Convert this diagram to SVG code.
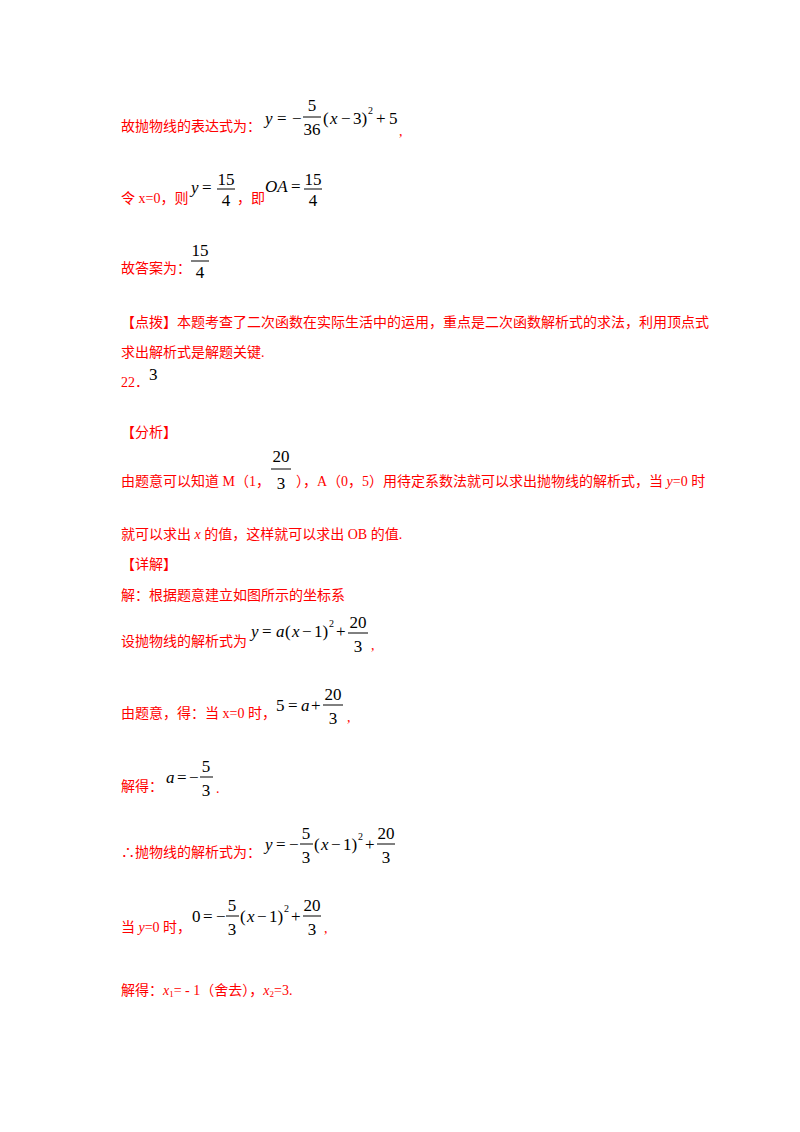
<svg xmlns="http://www.w3.org/2000/svg" width="800" height="1132" viewBox="0 0 800 1132">
<style>
.r{fill:#ff0000;font-family:"Liberation Serif","Times New Roman","Noto Sans CJK SC",serif;font-size:14px}
.m{fill:#000;font-family:"Liberation Serif","Times New Roman",serif;font-size:17px}
.i{font-style:italic}
.s{font-size:10px}
.f{stroke:#000;stroke-width:1}
</style>
<rect width="800" height="1132" fill="#fff"/>
<text class="r" x="121" y="131">故抛物线的表达式为：</text>
<text class="m i" x="265" y="124">y</text>
<text class="m" x="277" y="124">=</text>
<text class="m" x="292" y="124">−</text>
<text class="m" x="312" y="111" text-anchor="middle">5</text>
<line class="f" x1="303" y1="117" x2="321" y2="117"/>
<text class="m" x="312" y="135" text-anchor="middle">36</text>
<text class="m" x="323" y="124">(</text>
<text class="m i" x="330" y="124">x</text>
<text class="m" x="341" y="124">−</text>
<text class="m" x="353" y="124">3)</text>
<text class="m s" x="368" y="114">2</text>
<text class="m" x="376" y="124">+</text>
<text class="m" x="389" y="124">5</text>
<text class="r" x="399" y="136">,</text>

<text class="r" x="121" y="203">令 x=0，则</text>
<text class="m i" x="191" y="193">y</text>
<text class="m" x="202" y="193">=</text>
<text class="m" x="226" y="185" text-anchor="middle">15</text>
<line class="f" x1="217" y1="189" x2="235" y2="189"/>
<text class="m" x="226" y="206" text-anchor="middle">4</text>
<text class="r" x="237" y="203">，即</text>
<text class="m i" x="265" y="192">OA</text>
<text class="m" x="291" y="192">=</text>
<text class="m" x="313" y="185" text-anchor="middle">15</text>
<line class="f" x1="304" y1="189" x2="322" y2="189"/>
<text class="m" x="313" y="206" text-anchor="middle">4</text>

<text class="r" x="121" y="273">故答案为：</text>
<text class="m" x="200" y="256" text-anchor="middle">15</text>
<line class="f" x1="191" y1="261" x2="209" y2="261"/>
<text class="m" x="200" y="278" text-anchor="middle">4</text>

<text class="r" x="121" y="327">【点拨】本题考查了二次函数在实际生活中的运用，重点是二次函数解析式的求法，利用顶点式</text>
<text class="r" x="121" y="357">求出解析式是解题关键.</text>
<text class="r" x="121" y="387">22．</text>
<text class="m" x="149" y="380">3</text>
<text class="r" x="121" y="437">【分析】</text>
<text class="r" x="121" y="486">由题意可以知道 M（1，</text>
<text class="m" x="281" y="462" text-anchor="middle">20</text>
<line class="f" x1="271" y1="469" x2="291" y2="469"/>
<text class="m" x="281" y="489" text-anchor="middle">3</text>
<text class="r" x="296" y="486">），A（0，5）用待定系数法就可以求出抛物线的解析式，当 <tspan font-style="italic">y</tspan>=0 时</text>
<text class="r" x="121" y="539">就可以求出 <tspan font-style="italic">x</tspan> 的值，这样就可以求出 OB 的值.</text>
<text class="r" x="121" y="569">【详解】</text>
<text class="r" x="121" y="600">解：根据题意建立如图所示的坐标系</text>

<text class="r" x="121" y="646">设抛物线的解析式为</text>
<text class="m i" x="251" y="637">y</text>
<text class="m" x="262" y="637">=</text>
<text class="m i" x="276" y="637">a</text>
<text class="m" x="285" y="637">(</text>
<text class="m i" x="292" y="637">x</text>
<text class="m" x="302" y="637">−</text>
<text class="m" x="314" y="637">1)</text>
<text class="m s" x="329" y="627">2</text>
<text class="m" x="336" y="637">+</text>
<text class="m" x="358" y="628" text-anchor="middle">20</text>
<line class="f" x1="348" y1="633" x2="368" y2="633"/>
<text class="m" x="358" y="652" text-anchor="middle">3</text>
<text class="r" x="371" y="650">,</text>

<text class="r" x="121" y="718">由题意，得：当 x=0 时，</text>
<text class="m" x="276" y="711">5</text>
<text class="m" x="288" y="711">=</text>
<text class="m i" x="301" y="711">a</text>
<text class="m" x="311" y="711">+</text>
<text class="m" x="333" y="700" text-anchor="middle">20</text>
<line class="f" x1="323" y1="705" x2="343" y2="705"/>
<text class="m" x="333" y="724" text-anchor="middle">3</text>
<text class="r" x="347" y="722">,</text>

<text class="r" x="121" y="791">解得：</text>
<text class="m i" x="166" y="783">a</text>
<text class="m" x="177" y="783">=</text>
<text class="m" x="189" y="783">−</text>
<text class="m" x="206" y="772" text-anchor="middle">5</text>
<line class="f" x1="200" y1="777" x2="213" y2="777"/>
<text class="m" x="206" y="796" text-anchor="middle">3</text>
<text class="r" x="216" y="793">.</text>

<text class="r" x="121" y="857">∴抛物线的解析式为：</text>
<text class="m i" x="265" y="850">y</text>
<text class="m" x="276" y="850">=</text>
<text class="m" x="289" y="850">−</text>
<text class="m" x="306" y="839" text-anchor="middle">5</text>
<line class="f" x1="300" y1="844" x2="313" y2="844"/>
<text class="m" x="306" y="863" text-anchor="middle">3</text>
<text class="m" x="314" y="850">(</text>
<text class="m i" x="321" y="850">x</text>
<text class="m" x="331" y="850">−</text>
<text class="m" x="343" y="850">1)</text>
<text class="m s" x="358" y="840">2</text>
<text class="m" x="365" y="850">+</text>
<text class="m" x="386" y="839" text-anchor="middle">20</text>
<line class="f" x1="377" y1="844" x2="395" y2="844"/>
<text class="m" x="386" y="863" text-anchor="middle">3</text>

<text class="r" x="121" y="932">当 <tspan font-style="italic">y</tspan>=0 时，</text>
<text class="m" x="192" y="922">0</text>
<text class="m" x="203" y="922">=</text>
<text class="m" x="216" y="922">−</text>
<text class="m" x="232" y="911" text-anchor="middle">5</text>
<line class="f" x1="226" y1="916" x2="239" y2="916"/>
<text class="m" x="232" y="935" text-anchor="middle">3</text>
<text class="m" x="240" y="922">(</text>
<text class="m i" x="247" y="922">x</text>
<text class="m" x="257" y="922">−</text>
<text class="m" x="269" y="922">1)</text>
<text class="m s" x="284" y="912">2</text>
<text class="m" x="291" y="922">+</text>
<text class="m" x="312" y="911" text-anchor="middle">20</text>
<line class="f" x1="303" y1="916" x2="321" y2="916"/>
<text class="m" x="312" y="935" text-anchor="middle">3</text>
<text class="r" x="324" y="933">,</text>

<text class="r" x="121" y="995">解得：<tspan font-style="italic">x</tspan><tspan font-size="9" dy="2">1</tspan><tspan dy="-2">= - 1（舍去），</tspan><tspan font-style="italic">x</tspan><tspan font-size="9" dy="2">2</tspan><tspan dy="-2">=3.</tspan></text>
</svg>
